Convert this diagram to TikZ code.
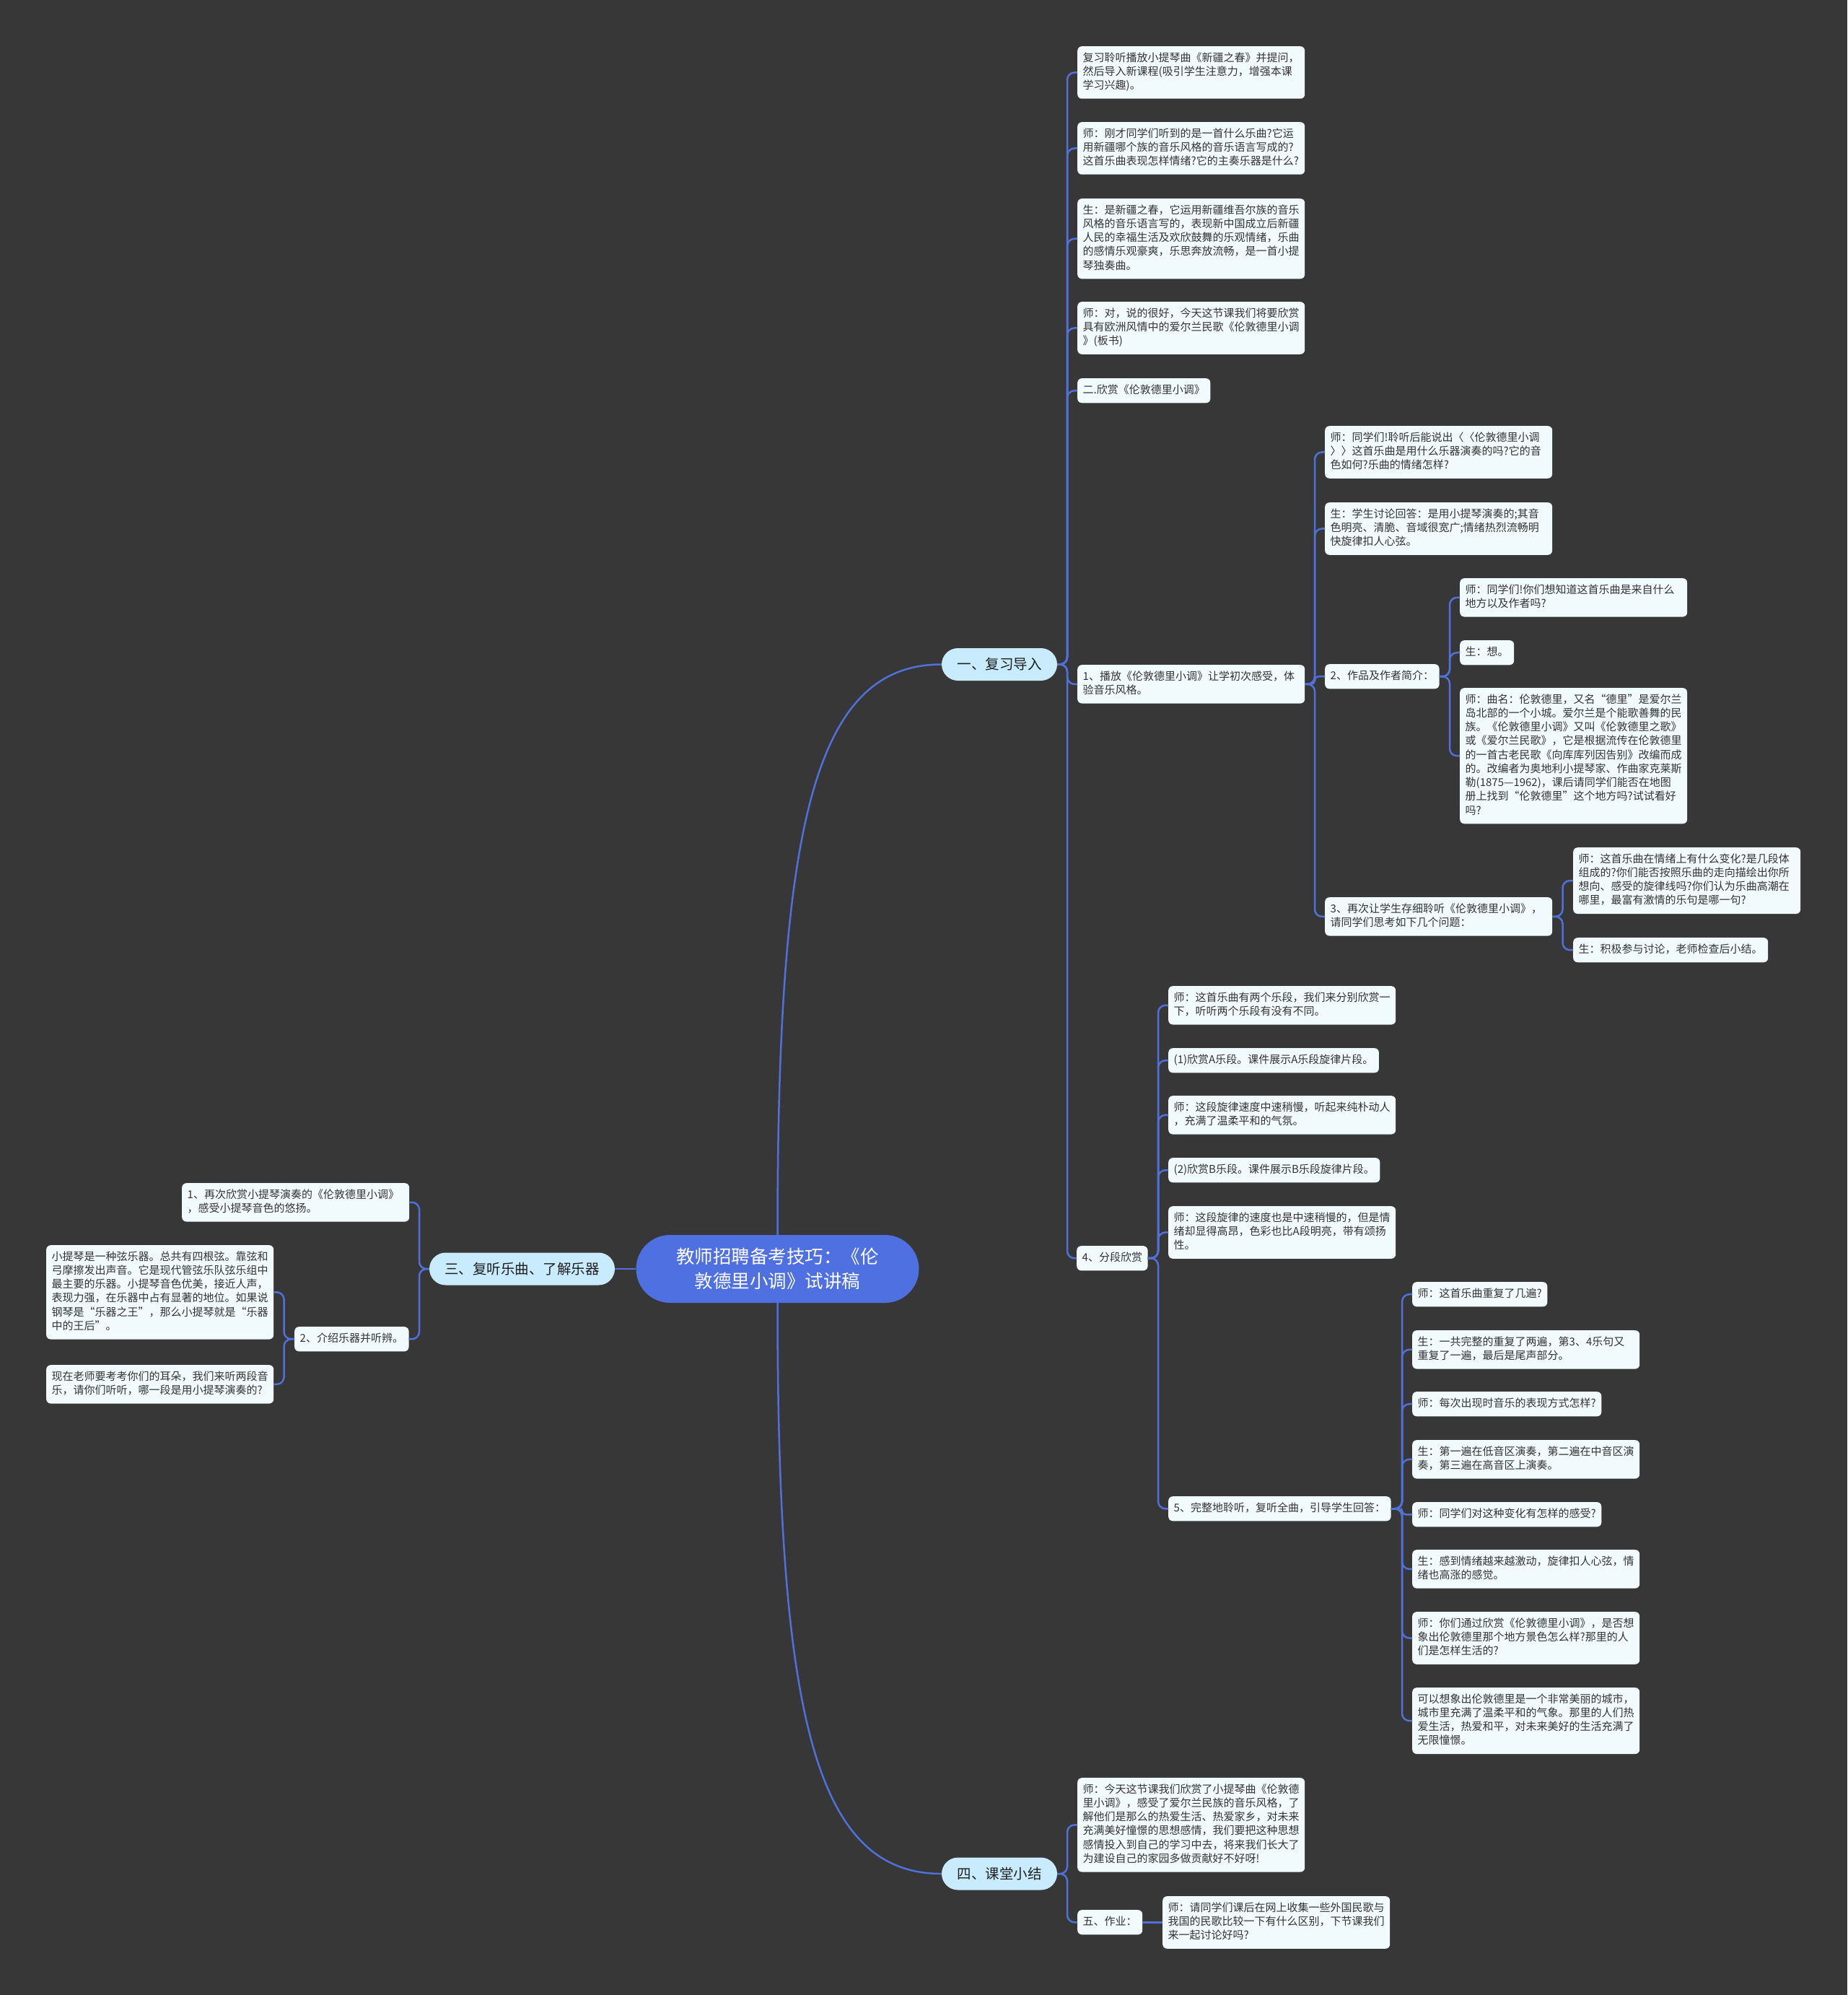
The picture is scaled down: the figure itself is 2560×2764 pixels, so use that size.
\documentclass[tikz,border=0pt]{standalone}
\usepackage{fontspec}
\setmainfont{Noto Sans CJK SC}
\usetikzlibrary{calc}
\definecolor{bg}{HTML}{373737}
\definecolor{lk}{HTML}{5070DA}
\definecolor{cfill}{HTML}{4F70E0}
\definecolor{lonefill}{HTML}{C8ECFD}
\definecolor{bfill}{HTML}{F1FAFD}
\definecolor{tx}{HTML}{333333}
\tikzset{
 box/.style={anchor=north west, fill=bfill, rounded corners=6pt, inner xsep=7.5pt, inner ysep=7.4pt, align=left, text=tx, font=\fontsize{15}{19.25}\selectfont, execute at begin node=\strut, execute at end node=\strut},
 wbox/.style={box, text width=300pt},
 lone/.style={fill=lonefill, rounded corners=22.5pt, minimum height=45pt, inner xsep=0pt, text=black!88, font=\fontsize{19.5}{24}\selectfont},
 rootnode/.style={fill=cfill, rounded corners=47pt, minimum width=392pt, minimum height=94pt, align=center, text=white, font=\fontsize{25.5}{34}\selectfont},
 link/.style={draw=lk, line width=2.5pt, rounded corners=10pt},
}
\newcommand\conR[4][10pt]{\draw[link,rounded corners=#1] (#2.east) -- (#4 |- #2.east) -- (#4 |- #3.west) -- (#3.west);}
\newcommand\conL[4][10pt]{\draw[link,rounded corners=#1] (#2.west) -- (#4 |- #2.west) -- (#4 |- #3.east) -- (#3.east);}
\begin{document}
\begin{tikzpicture}[x=1pt,y=-1pt]
\fill[bg] (0,0) rectangle (2560,2764);
\useasboundingbox (0,0) rectangle (2560,2764);

% root and level 1
\node[rootnode] (c) at (1077.5,1758) {教师招聘备考技巧：《伦\\敦德里小调》试讲稿};
\node[lone, minimum width=160pt] (L1) at (1385,920.5) {一、复习导入};
\node[lone, minimum width=257pt] (L3) at (723.5,1758) {三、复听乐曲、了解乐器};
\node[lone, minimum width=160pt] (L4) at (1385,2596) {四、课堂小结};

% children of 一
\node[wbox] (a1) at (1493,64) {复习聆听播放小提琴曲《新疆之春》并提问，\\然后导入新课程(吸引学生注意力，增强本课\\学习兴趣)。};
\node[wbox] (a2) at (1493,169) {师：刚才同学们听到的是一首什么乐曲?它运\\用新疆哪个族的音乐风格的音乐语言写成的?\\这首乐曲表现怎样情绪?它的主奏乐器是什么?};
\node[wbox] (a3) at (1493,275) {生：是新疆之春，它运用新疆维吾尔族的音乐\\风格的音乐语言写的，表现新中国成立后新疆\\人民的幸福生活及欢欣鼓舞的乐观情绪，乐曲\\的感情乐观豪爽，乐思奔放流畅，是一首小提\\琴独奏曲。};
\node[wbox] (a4) at (1493,418) {师：对，说的很好，今天这节课我们将要欣赏\\具有欧洲风情中的爱尔兰民歌《伦敦德里小调\\》(板书)};
\node[box] (a5) at (1493,524) {二.欣赏《伦敦德里小调》};
\node[wbox] (a6) at (1493,921) {1、播放《伦敦德里小调》让学初次感受，体\\验音乐风格。};
\node[box] (a7) at (1492,1726) {4、分段欣赏};

% children of 1、播放
\node[wbox] (b1) at (1836,590) {师：同学们!聆听后能说出〈〈伦敦德里小调\\〉〉这首乐曲是用什么乐器演奏的吗?它的音\\色如何?乐曲的情绪怎样?};
\node[wbox] (b2) at (1836,696) {生：学生讨论回答：是用小提琴演奏的;其音\\色明亮、清脆、音域很宽广;情绪热烈流畅明\\快旋律扣人心弦。};
\node[box] (b3) at (1836,920) {2、作品及作者简介：};
\node[wbox] (b4) at (1836,1243) {3、再次让学生存细聆听《伦敦德里小调》，\\请同学们思考如下几个问题：};

% children of 2、作品
\node[wbox] (c1) at (2023,801) {师：同学们!你们想知道这首乐曲是来自什么\\地方以及作者吗?};
\node[box] (c2) at (2023,887) {生：想。};
\node[wbox] (c3) at (2023,953) {师：曲名：伦敦德里，又名“德里”是爱尔兰\\岛北部的一个小城。爱尔兰是个能歌善舞的民\\族。《伦敦德里小调》又叫《伦敦德里之歌》\\或《爱尔兰民歌》，它是根据流传在伦敦德里\\的一首古老民歌《向库库列因告别》改编而成\\的。改编者为奥地利小提琴家、作曲家克莱斯\\勒(1875—1962)，课后请同学们能否在地图\\册上找到“伦敦德里”这个地方吗?试试看好\\吗?};

% children of 3、
\node[wbox] (d1) at (2180,1174) {师：这首乐曲在情绪上有什么变化?是几段体\\组成的?你们能否按照乐曲的走向描绘出你所\\想向、感受的旋律线吗?你们认为乐曲高潮在\\哪里，最富有激情的乐句是哪一句?};
\node[box] (d2) at (2180,1299) {生：积极参与讨论，老师检查后小结。};

% children of 4、分段欣赏
\node[wbox] (e1) at (1619,1366) {师：这首乐曲有两个乐段，我们来分别欣赏一\\下，听听两个乐段有没有不同。};
\node[box] (e2) at (1619,1452) {(1)欣赏A乐段。课件展示A乐段旋律片段。};
\node[wbox] (e3) at (1619,1518) {师：这段旋律速度中速稍慢，听起来纯朴动人\\，充满了温柔平和的气氛。};
\node[box] (e4) at (1619,1604) {(2)欣赏B乐段。课件展示B乐段旋律片段。};
\node[wbox] (e5) at (1619,1671) {师：这段旋律的速度也是中速稍慢的，但是情\\绪却显得高昂，色彩也比A段明亮，带有颂扬\\性。};
\node[box] (e6) at (1619,2073) {5、完整地聆听，复听全曲，引导学生回答：};

% children of 5、
\node[box] (f1) at (1957,1776) {师：这首乐曲重复了几遍?};
\node[wbox] (f2) at (1957,1843) {生：一共完整的重复了两遍，第3、4乐句又\\重复了一遍，最后是尾声部分。};
\node[box] (f3) at (1957,1928) {师：每次出现时音乐的表现方式怎样?};
\node[wbox] (f4) at (1957,1995) {生：第一遍在低音区演奏，第二遍在中音区演\\奏，第三遍在高音区上演奏。};
\node[box] (f5) at (1957,2081) {师：同学们对这种变化有怎样的感受?};
\node[wbox] (f6) at (1957,2147) {生：感到情绪越来越激动，旋律扣人心弦，情\\绪也高涨的感觉。};
\node[wbox] (f7) at (1957,2233) {师：你们通过欣赏《伦敦德里小调》，是否想\\象出伦敦德里那个地方景色怎么样?那里的人\\们是怎样生活的?};
\node[wbox] (f8) at (1957,2338) {可以想象出伦敦德里是一个非常美丽的城市，\\城市里充满了温柔平和的气象。那里的人们热\\爱生活，热爱和平，对未来美好的生活充满了\\无限憧憬。};

% children of 四
\node[wbox] (g1) at (1493,2463) {师：今天这节课我们欣赏了小提琴曲《伦敦德\\里小调》，感受了爱尔兰民族的音乐风格，了\\解他们是那么的热爱生活、热爱家乡，对未来\\充满美好憧憬的思想感情，我们要把这种思想\\感情投入到自己的学习中去，将来我们长大了\\为建设自己的家园多做贡献好不好呀!};
\node[box] (g2) at (1493,2646) {五、作业：};
\node[wbox] (g3) at (1611,2627) {师：请同学们课后在网上收集一些外国民歌与\\我国的民歌比较一下有什么区别，下节课我们\\来一起讨论好吗?};

% children of 三
\node[wbox] (h1) at (252,1639) {1、再次欣赏小提琴演奏的《伦敦德里小调》\\，感受小提琴音色的悠扬。};
\node[box] (h2) at (408,1838) {2、介绍乐器并听辨。};
\node[wbox] (h3) at (64,1725) {小提琴是一种弦乐器。总共有四根弦。靠弦和\\弓摩擦发出声音。它是现代管弦乐队弦乐组中\\最主要的乐器。小提琴音色优美，接近人声，\\表现力强，在乐器中占有显著的地位。如果说\\钢琴是“乐器之王”，那么小提琴就是“乐器\\中的王后”。};
\node[wbox] (h4) at (64,1891) {现在老师要考考你们的耳朵，我们来听两段音\\乐，请你们听听，哪一段是用小提琴演奏的?};

% trunks
\coordinate (tA) at (1479,0);
\coordinate (tB) at (1822,0);
\coordinate (tC) at (2009,0);
\coordinate (tD) at (2165.5,0);
\coordinate (tE) at (1605,0);
\coordinate (tF) at (1943,0);
\coordinate (tG) at (1479,0);
\coordinate (tH) at (581,0);
\coordinate (tI) at (393.5,0);

% root links
\draw[link] (c.north) .. controls +(0,-566) and +(-177,0) .. (L1.west);
\draw[link] (c.south) .. controls +(0,566) and +(-177,0) .. (L4.west);
\draw[link] (c.west) -- (L3.east);

% links
\conR{L1}{a1}{tA}
\conR{L1}{a2}{tA}
\conR{L1}{a3}{tA}
\conR{L1}{a4}{tA}
\conR{L1}{a5}{tA}
\conR{L1}{a6}{tA}
\conR{L1}{a7}{tA}
\conR{a6}{b1}{tB}
\conR{a6}{b2}{tB}
\conR[5pt]{a6}{b3}{tB}
\conR{a6}{b4}{tB}
\conR{b3}{c1}{tC}
\conR{b3}{c2}{tC}
\conR{b3}{c3}{tC}
\conR{b4}{d1}{tD}
\conR{b4}{d2}{tD}
\conR{a7}{e1}{tE}
\conR{a7}{e2}{tE}
\conR{a7}{e3}{tE}
\conR{a7}{e4}{tE}
\conR{a7}{e5}{tE}
\conR{a7}{e6}{tE}
\conR{e6}{f1}{tF}
\conR{e6}{f2}{tF}
\conR{e6}{f3}{tF}
\conR{e6}{f4}{tF}
\conR[5pt]{e6}{f5}{tF}
\conR{e6}{f6}{tF}
\conR{e6}{f7}{tF}
\conR{e6}{f8}{tF}
\conR{L4}{g1}{tG}
\conR{L4}{g2}{tG}
\draw[link] (g2.east) -- (g3.west |- g2.east);
\conL{L3}{h1}{tH}
\conL{L3}{h2}{tH}
\conL{h2}{h3}{tI}
\conL{h2}{h4}{tI}
\end{tikzpicture}
\end{document}
